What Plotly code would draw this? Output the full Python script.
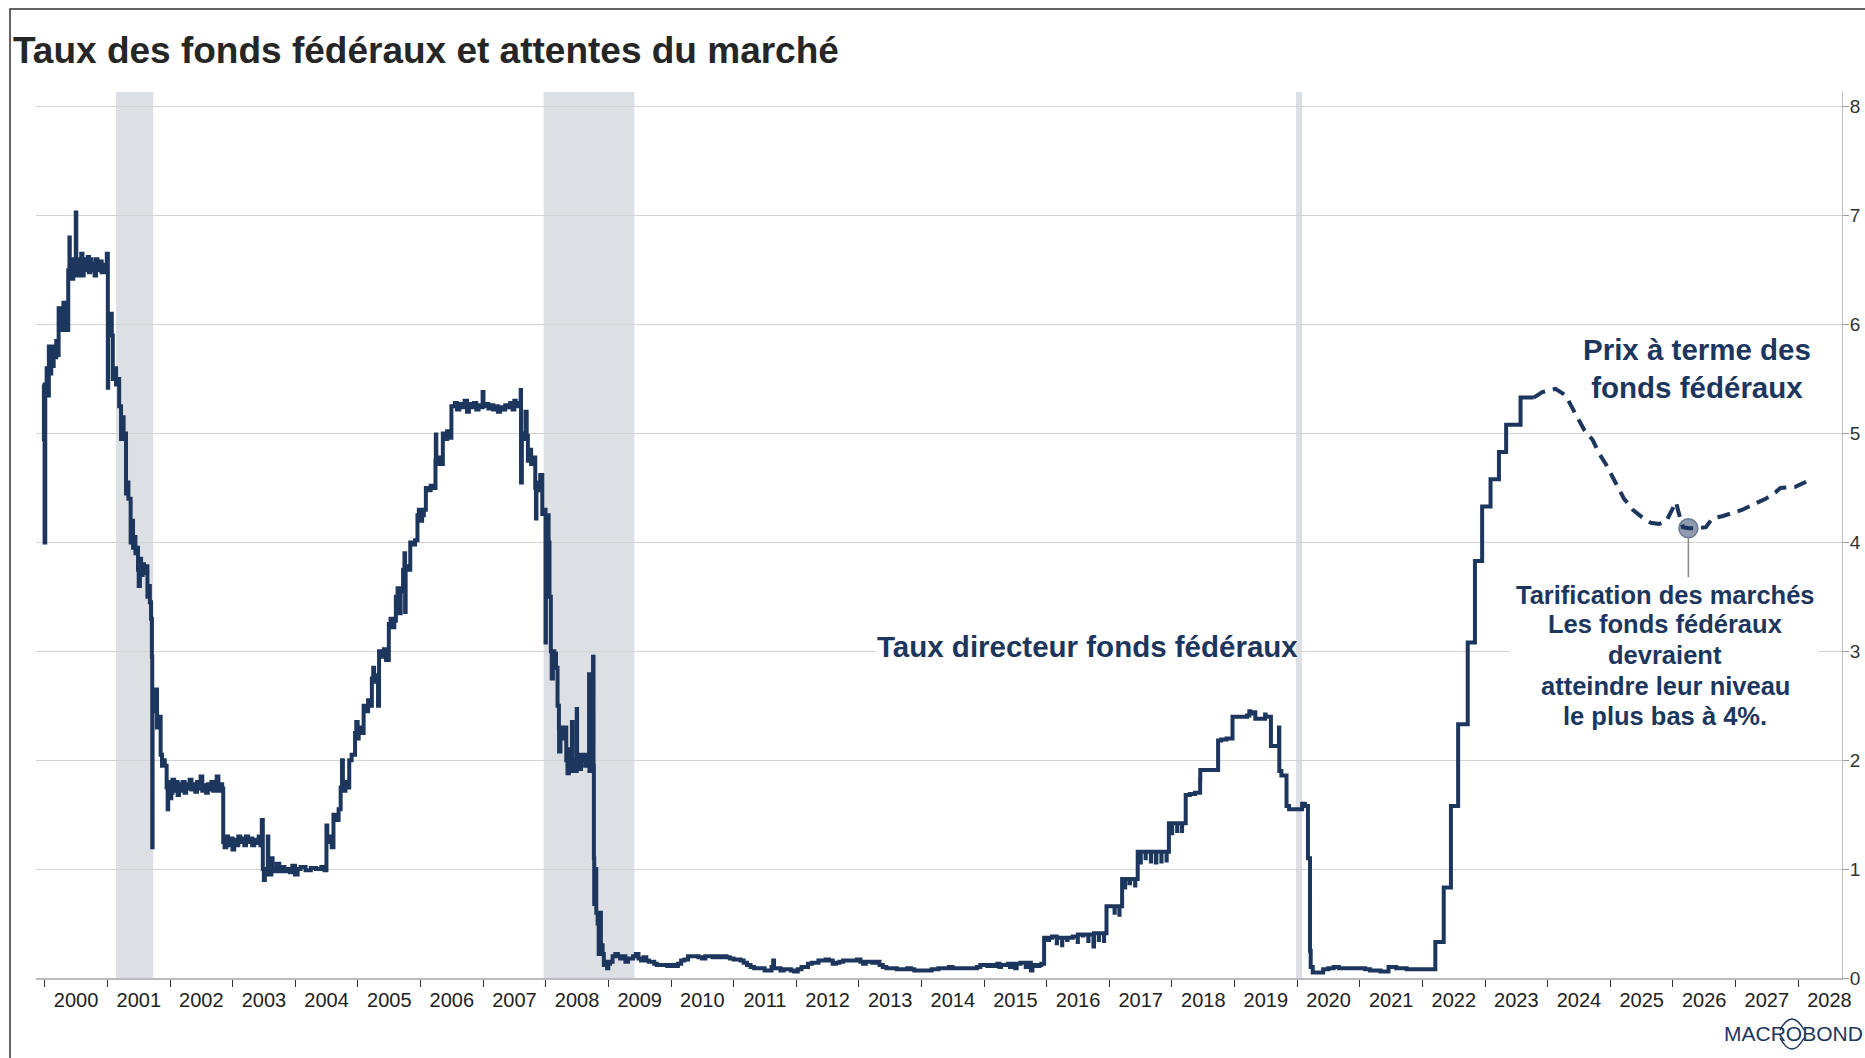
import plotly.graph_objects as go

# ---------------- data ----------------
effr_points = [
    ("1999-12-20", 5.45), ("1999-12-27", 4.95), ("1999-12-31", 4.00), ("2000-01-04", 5.45),
    ("2000-01-12", 5.60), ("2000-01-18", 5.35), ("2000-01-25", 5.80), ("2000-02-02", 5.55),
    ("2000-02-08", 5.75), ("2000-02-15", 5.62), ("2000-02-22", 5.80), ("2000-03-01", 5.70),
    ("2000-03-08", 5.85), ("2000-03-15", 5.72), ("2000-03-22", 6.15), ("2000-03-29", 5.95),
    ("2000-04-05", 6.15), ("2000-04-12", 5.95), ("2000-04-19", 6.20), ("2000-04-26", 6.00),
    ("2000-05-03", 6.05), ("2000-05-10", 5.95), ("2000-05-17", 6.50), ("2000-05-24", 6.80),
    ("2000-05-26", 6.45), ("2000-06-02", 6.60), ("2000-06-08", 6.42), ("2000-06-15", 6.55),
    ("2000-06-22", 6.45), ("2000-06-30", 7.03), ("2000-07-03", 6.50), ("2000-07-10", 6.60),
    ("2000-07-17", 6.45), ("2000-07-24", 6.55), ("2000-08-01", 6.65), ("2000-08-08", 6.45),
    ("2000-08-15", 6.60), ("2000-08-22", 6.50), ("2000-09-01", 6.55), ("2000-09-08", 6.62),
    ("2000-09-15", 6.48), ("2000-09-22", 6.60), ("2000-10-01", 6.50), ("2000-10-10", 6.56),
    ("2000-10-18", 6.45), ("2000-10-26", 6.60), ("2000-11-03", 6.50), ("2000-11-12", 6.55),
    ("2000-11-20", 6.58), ("2000-11-28", 6.48), ("2000-12-06", 6.55), ("2000-12-14", 6.48),
    ("2000-12-22", 6.52), ("2000-12-28", 6.65), ("2001-01-03", 5.42), ("2001-01-05", 6.05),
    ("2001-01-12", 5.95), ("2001-01-19", 6.10), ("2001-01-26", 5.90), ("2001-02-01", 5.50),
    ("2001-02-10", 5.60), ("2001-02-20", 5.45), ("2001-03-01", 5.50), ("2001-03-10", 5.25),
    ("2001-03-21", 4.95), ("2001-03-28", 5.15), ("2001-04-05", 4.95), ("2001-04-12", 5.00),
    ("2001-04-19", 4.45), ("2001-04-26", 4.55), ("2001-05-03", 4.40), ("2001-05-16", 4.00),
    ("2001-05-23", 4.20), ("2001-05-30", 3.95), ("2001-06-06", 4.05), ("2001-06-13", 3.90),
    ("2001-06-20", 3.95), ("2001-06-28", 3.75), ("2001-07-02", 3.60), ("2001-07-09", 3.85),
    ("2001-07-16", 3.70), ("2001-07-25", 3.80), ("2001-08-02", 3.72), ("2001-08-10", 3.78),
    ("2001-08-22", 3.50), ("2001-08-30", 3.60), ("2001-09-05", 3.45), ("2001-09-12", 3.30),
    ("2001-09-17", 2.95), ("2001-09-19", 1.20), ("2001-09-21", 2.50), ("2001-09-26", 2.65),
    ("2001-10-03", 2.45), ("2001-10-10", 2.65), ("2001-10-17", 2.30), ("2001-10-24", 2.40),
    ("2001-11-07", 2.05), ("2001-11-15", 1.95), ("2001-11-22", 2.00), ("2001-12-01", 1.95),
    ("2001-12-12", 1.75), ("2001-12-18", 1.55), ("2001-12-21", 1.80), ("2001-12-31", 1.65),
    ("2002-01-08", 1.70), ("2002-01-15", 1.82), ("2002-01-25", 1.72), ("2002-02-05", 1.80),
    ("2002-02-14", 1.68), ("2002-02-22", 1.78), ("2002-03-05", 1.72), ("2002-03-15", 1.80),
    ("2002-03-27", 1.70), ("2002-04-05", 1.78), ("2002-04-15", 1.74), ("2002-04-25", 1.82),
    ("2002-05-06", 1.73), ("2002-05-16", 1.78), ("2002-05-28", 1.71), ("2002-06-07", 1.80),
    ("2002-06-18", 1.74), ("2002-06-28", 1.85), ("2002-07-08", 1.72), ("2002-07-18", 1.77),
    ("2002-07-30", 1.70), ("2002-08-09", 1.78), ("2002-08-20", 1.73), ("2002-08-30", 1.80),
    ("2002-09-10", 1.72), ("2002-09-20", 1.76), ("2002-09-30", 1.85), ("2002-10-10", 1.72),
    ("2002-10-22", 1.78), ("2002-11-01", 1.74), ("2002-11-07", 1.25), ("2002-11-15", 1.20),
    ("2002-11-25", 1.30), ("2002-12-05", 1.22), ("2002-12-16", 1.28), ("2002-12-31", 1.18),
    ("2003-01-10", 1.27), ("2003-01-22", 1.22), ("2003-02-03", 1.30), ("2003-02-14", 1.25),
    ("2003-02-26", 1.28), ("2003-03-10", 1.22), ("2003-03-20", 1.30), ("2003-04-01", 1.25),
    ("2003-04-14", 1.28), ("2003-04-25", 1.22), ("2003-05-07", 1.27), ("2003-05-20", 1.24),
    ("2003-06-02", 1.30), ("2003-06-12", 1.22), ("2003-06-20", 1.45), ("2003-06-26", 1.00),
    ("2003-07-02", 0.90), ("2003-07-08", 1.00), ("2003-07-15", 0.95), ("2003-07-25", 1.30),
    ("2003-07-28", 1.00), ("2003-08-05", 0.95), ("2003-08-15", 1.10), ("2003-08-22", 1.00),
    ("2003-09-02", 0.98), ("2003-09-15", 1.05), ("2003-09-30", 0.98), ("2003-10-15", 1.02),
    ("2003-10-30", 0.98), ("2003-11-12", 1.00), ("2003-12-01", 0.97), ("2003-12-15", 1.03),
    ("2003-12-31", 0.95), ("2004-01-15", 1.00), ("2004-02-01", 1.02), ("2004-03-01", 0.99),
    ("2004-04-01", 1.01), ("2004-05-01", 1.00), ("2004-06-01", 1.02), ("2004-06-20", 0.99),
    ("2004-07-01", 1.40), ("2004-07-06", 1.25), ("2004-07-20", 1.30), ("2004-08-01", 1.20),
    ("2004-08-11", 1.50), ("2004-08-25", 1.45), ("2004-09-10", 1.55), ("2004-09-22", 1.75),
    ("2004-09-30", 2.00), ("2004-10-05", 1.72), ("2004-10-20", 1.80), ("2004-11-01", 1.75),
    ("2004-11-11", 2.00), ("2004-11-25", 2.05), ("2004-12-15", 2.25), ("2004-12-22", 2.35),
    ("2004-12-30", 2.20), ("2005-01-05", 2.30), ("2005-01-20", 2.25), ("2005-02-03", 2.50),
    ("2005-02-15", 2.45), ("2005-03-01", 2.55), ("2005-03-10", 2.50), ("2005-03-23", 2.75),
    ("2005-03-31", 2.85), ("2005-04-05", 2.72), ("2005-04-20", 2.78), ("2005-04-28", 2.50),
    ("2005-05-04", 3.00), ("2005-05-20", 2.95), ("2005-06-01", 3.02), ("2005-06-14", 2.92),
    ("2005-06-30", 3.25), ("2005-07-10", 3.30), ("2005-07-20", 3.22), ("2005-08-01", 3.28),
    ("2005-08-10", 3.50), ("2005-08-20", 3.58), ("2005-08-31", 3.35), ("2005-09-07", 3.55),
    ("2005-09-21", 3.75), ("2005-09-29", 3.90), ("2005-10-03", 3.36), ("2005-10-06", 3.78),
    ("2005-10-15", 3.75), ("2005-11-02", 4.00), ("2005-11-15", 3.98), ("2005-11-30", 4.02),
    ("2005-12-14", 4.25), ("2005-12-22", 4.30), ("2005-12-30", 4.20), ("2006-01-10", 4.25),
    ("2006-01-20", 4.30), ("2006-02-01", 4.50), ("2006-02-15", 4.48), ("2006-03-01", 4.52),
    ("2006-03-15", 4.50), ("2006-03-29", 4.75), ("2006-03-31", 4.99), ("2006-04-03", 4.72),
    ("2006-04-15", 4.78), ("2006-04-25", 4.72), ("2006-05-11", 5.00), ("2006-05-25", 4.95),
    ("2006-06-05", 5.02), ("2006-06-15", 4.96), ("2006-06-30", 5.25), ("2006-07-20", 5.28),
    ("2006-08-01", 5.22), ("2006-08-15", 5.27), ("2006-09-01", 5.24), ("2006-09-15", 5.30),
    ("2006-09-29", 5.20), ("2006-10-10", 5.27), ("2006-10-25", 5.24), ("2006-11-08", 5.28),
    ("2006-11-22", 5.22), ("2006-12-05", 5.26), ("2006-12-20", 5.24), ("2006-12-29", 5.38),
    ("2007-01-03", 5.25), ("2007-01-18", 5.27), ("2007-02-01", 5.23), ("2007-02-15", 5.26),
    ("2007-03-01", 5.22), ("2007-03-15", 5.25), ("2007-03-28", 5.20), ("2007-04-10", 5.24),
    ("2007-04-25", 5.22), ("2007-05-10", 5.26), ("2007-05-25", 5.24), ("2007-06-08", 5.28),
    ("2007-06-22", 5.22), ("2007-07-02", 5.30), ("2007-07-10", 5.25), ("2007-07-25", 5.28),
    ("2007-08-01", 5.26), ("2007-08-08", 5.40), ("2007-08-10", 4.55), ("2007-08-15", 5.00),
    ("2007-08-25", 4.95), ("2007-09-05", 5.20), ("2007-09-12", 4.98), ("2007-09-19", 4.75),
    ("2007-09-28", 4.85), ("2007-10-08", 4.72), ("2007-10-20", 4.78), ("2007-11-01", 4.50),
    ("2007-11-05", 4.22), ("2007-11-08", 4.55), ("2007-11-20", 4.48), ("2007-11-30", 4.62),
    ("2007-12-12", 4.26), ("2007-12-20", 4.30), ("2007-12-31", 3.08), ("2008-01-02", 4.00),
    ("2008-01-10", 4.25), ("2008-01-18", 4.00), ("2008-01-23", 3.50), ("2008-01-31", 3.00),
    ("2008-02-05", 2.75), ("2008-02-12", 3.00), ("2008-02-20", 2.98), ("2008-03-01", 2.85),
    ("2008-03-10", 2.50), ("2008-03-18", 2.30), ("2008-03-19", 2.08), ("2008-03-27", 2.30),
    ("2008-04-05", 2.20), ("2008-04-15", 2.30), ("2008-04-30", 2.00), ("2008-05-07", 1.88),
    ("2008-05-15", 2.10), ("2008-05-25", 1.90), ("2008-06-02", 2.35), ("2008-06-06", 2.00),
    ("2008-06-17", 1.90), ("2008-06-30", 2.47), ("2008-07-02", 2.05), ("2008-07-15", 1.92),
    ("2008-07-25", 2.05), ("2008-08-05", 2.00), ("2008-08-18", 1.95), ("2008-08-28", 2.05),
    ("2008-09-05", 2.00), ("2008-09-10", 2.79), ("2008-09-12", 1.90), ("2008-09-24", 2.00),
    ("2008-10-03", 2.95), ("2008-10-06", 1.95), ("2008-10-08", 1.10), ("2008-10-10", 0.68),
    ("2008-10-15", 1.00), ("2008-10-22", 0.60), ("2008-10-30", 0.50), ("2008-11-05", 0.22),
    ("2008-11-12", 0.60), ("2008-11-18", 0.30), ("2008-11-28", 0.22), ("2008-12-05", 0.12),
    ("2008-12-16", 0.15), ("2008-12-24", 0.09), ("2008-12-31", 0.13), ("2009-01-10", 0.15),
    ("2009-01-25", 0.20), ("2009-02-10", 0.22), ("2009-02-25", 0.20), ("2009-03-10", 0.18),
    ("2009-03-25", 0.20), ("2009-04-10", 0.15), ("2009-04-25", 0.18), ("2009-05-10", 0.18),
    ("2009-05-25", 0.20), ("2009-06-10", 0.22), ("2009-06-25", 0.18), ("2009-07-10", 0.16),
    ("2009-07-25", 0.19), ("2009-08-10", 0.16), ("2009-08-25", 0.15), ("2009-09-10", 0.15),
    ("2009-09-25", 0.13), ("2009-10-10", 0.12), ("2009-11-01", 0.12), ("2009-11-20", 0.12),
    ("2009-12-10", 0.11), ("2010-01-01", 0.12), ("2010-01-20", 0.11), ("2010-02-10", 0.13),
    ("2010-03-01", 0.16), ("2010-03-20", 0.17), ("2010-04-10", 0.20), ("2010-05-01", 0.20),
    ("2010-05-20", 0.20), ("2010-06-10", 0.19), ("2010-07-01", 0.18), ("2010-07-20", 0.20),
    ("2010-08-10", 0.20), ("2010-09-01", 0.19), ("2010-09-20", 0.20), ("2010-10-10", 0.19),
    ("2010-11-01", 0.20), ("2010-11-20", 0.19), ("2010-12-10", 0.18), ("2011-01-01", 0.17),
    ("2011-01-20", 0.17), ("2011-02-10", 0.16), ("2011-03-01", 0.14), ("2011-03-20", 0.12),
    ("2011-04-10", 0.10), ("2011-05-01", 0.09), ("2011-05-20", 0.09), ("2011-06-10", 0.09),
    ("2011-07-01", 0.07), ("2011-07-20", 0.07), ("2011-08-10", 0.10), ("2011-08-20", 0.16),
    ("2011-08-25", 0.09), ("2011-09-10", 0.09), ("2011-10-01", 0.07), ("2011-10-20", 0.08),
    ("2011-11-10", 0.08), ("2011-12-01", 0.07), ("2011-12-20", 0.06), ("2012-01-10", 0.08),
    ("2012-02-01", 0.10), ("2012-02-20", 0.10), ("2012-03-10", 0.13), ("2012-04-01", 0.14),
    ("2012-04-20", 0.14), ("2012-05-10", 0.16), ("2012-06-01", 0.16), ("2012-06-20", 0.17),
    ("2012-07-10", 0.16), ("2012-08-01", 0.13), ("2012-08-20", 0.14), ("2012-09-10", 0.15),
    ("2012-10-01", 0.16), ("2012-10-20", 0.16), ("2012-11-10", 0.16), ("2012-12-01", 0.16),
    ("2012-12-20", 0.17), ("2013-01-10", 0.15), ("2013-01-25", 0.13), ("2013-02-10", 0.15),
    ("2013-03-01", 0.15), ("2013-03-20", 0.14), ("2013-04-10", 0.15), ("2013-05-01", 0.12),
    ("2013-05-20", 0.10), ("2013-06-10", 0.09), ("2013-07-01", 0.09), ("2013-07-20", 0.09),
    ("2013-08-10", 0.08), ("2013-09-01", 0.08), ("2013-09-20", 0.08), ("2013-10-10", 0.09),
    ("2013-11-01", 0.08), ("2013-11-20", 0.07), ("2013-12-10", 0.07), ("2014-01-01", 0.07),
    ("2014-01-20", 0.07), ("2014-02-10", 0.07), ("2014-03-01", 0.08), ("2014-03-20", 0.08),
    ("2014-04-10", 0.09), ("2014-05-01", 0.09), ("2014-05-20", 0.09), ("2014-06-10", 0.10),
    ("2014-07-01", 0.09), ("2014-07-20", 0.09), ("2014-08-10", 0.09), ("2014-09-01", 0.09),
    ("2014-09-20", 0.09), ("2014-10-10", 0.09), ("2014-11-01", 0.09), ("2014-11-20", 0.10),
    ("2014-12-10", 0.12), ("2015-01-01", 0.12), ("2015-01-20", 0.11), ("2015-02-10", 0.12),
    ("2015-03-01", 0.11), ("2015-03-20", 0.13), ("2015-04-01", 0.10), ("2015-04-10", 0.12),
    ("2015-05-01", 0.12), ("2015-05-20", 0.13), ("2015-06-01", 0.10), ("2015-06-10", 0.13),
    ("2015-07-01", 0.09), ("2015-07-10", 0.13), ("2015-08-01", 0.14), ("2015-08-20", 0.14),
    ("2015-09-01", 0.10), ("2015-09-10", 0.14), ("2015-10-01", 0.07), ("2015-10-10", 0.12),
    ("2015-11-01", 0.11), ("2015-11-20", 0.12), ("2015-12-01", 0.13), ("2015-12-17", 0.37),
    ("2016-01-04", 0.35), ("2016-01-15", 0.37), ("2016-02-01", 0.38), ("2016-02-29", 0.32),
    ("2016-03-01", 0.37), ("2016-03-31", 0.30), ("2016-04-01", 0.37), ("2016-04-29", 0.35),
    ("2016-05-02", 0.37), ("2016-05-20", 0.37), ("2016-06-01", 0.38), ("2016-06-30", 0.33),
    ("2016-07-01", 0.40), ("2016-07-29", 0.39), ("2016-08-01", 0.40), ("2016-08-31", 0.34),
    ("2016-09-01", 0.40), ("2016-09-30", 0.29), ("2016-10-03", 0.41), ("2016-10-31", 0.35),
    ("2016-11-01", 0.41), ("2016-11-30", 0.34), ("2016-12-01", 0.41), ("2016-12-15", 0.66),
    ("2017-01-03", 0.66), ("2017-01-31", 0.60), ("2017-02-01", 0.66), ("2017-02-28", 0.58),
    ("2017-03-01", 0.66), ("2017-03-16", 0.91), ("2017-03-31", 0.83), ("2017-04-03", 0.91),
    ("2017-04-28", 0.87), ("2017-05-01", 0.91), ("2017-05-31", 0.85), ("2017-06-01", 0.91),
    ("2017-06-15", 1.16), ("2017-06-30", 1.06), ("2017-07-03", 1.16), ("2017-07-31", 1.10),
    ("2017-08-01", 1.16), ("2017-08-31", 1.07), ("2017-09-01", 1.16), ("2017-09-29", 1.06),
    ("2017-10-02", 1.16), ("2017-10-31", 1.07), ("2017-11-01", 1.16), ("2017-11-30", 1.08),
    ("2017-12-01", 1.16), ("2017-12-14", 1.42), ("2017-12-29", 1.33), ("2018-01-02", 1.42),
    ("2018-01-31", 1.35), ("2018-02-01", 1.42), ("2018-02-28", 1.35), ("2018-03-01", 1.42),
    ("2018-03-22", 1.68), ("2018-04-15", 1.69), ("2018-05-15", 1.70), ("2018-06-14", 1.82),
    ("2018-06-15", 1.91), ("2018-07-15", 1.91), ("2018-08-15", 1.91), ("2018-09-27", 2.18),
    ("2018-10-15", 2.19), ("2018-11-15", 2.20), ("2018-12-20", 2.40), ("2019-01-15", 2.40),
    ("2019-02-15", 2.40), ("2019-03-15", 2.41), ("2019-03-28", 2.45), ("2019-04-02", 2.43),
    ("2019-04-15", 2.44), ("2019-05-02", 2.38), ("2019-05-20", 2.38), ("2019-06-15", 2.38),
    ("2019-06-28", 2.42), ("2019-07-01", 2.40), ("2019-08-01", 2.13), ("2019-09-01", 2.13),
    ("2019-09-17", 2.30), ("2019-09-19", 1.90), ("2019-10-01", 1.86), ("2019-10-31", 1.58),
    ("2019-11-15", 1.55), ("2019-12-15", 1.55), ("2020-01-15", 1.55), ("2020-01-30", 1.60),
    ("2020-02-15", 1.58), ("2020-03-04", 1.10), ("2020-03-16", 0.25), ("2020-03-20", 0.10),
    ("2020-04-01", 0.05), ("2020-05-01", 0.05), ("2020-06-01", 0.08), ("2020-07-01", 0.09),
    ("2020-08-01", 0.10), ("2020-09-01", 0.09), ("2020-10-01", 0.09), ("2020-11-01", 0.09),
    ("2020-12-01", 0.09), ("2021-01-01", 0.09), ("2021-02-01", 0.08), ("2021-03-01", 0.07),
    ("2021-04-01", 0.07), ("2021-05-01", 0.06), ("2021-06-17", 0.10), ("2021-07-01", 0.10),
    ("2021-08-01", 0.09), ("2021-10-01", 0.08), ("2021-12-01", 0.08), ("2022-02-01", 0.08),
    ("2022-03-17", 0.33), ("2022-05-05", 0.83), ("2022-06-16", 1.58), ("2022-07-28", 2.33),
    ("2022-09-22", 3.08), ("2022-11-03", 3.83), ("2022-12-15", 4.33), ("2023-02-02", 4.58),
    ("2023-03-23", 4.83), ("2023-05-04", 5.08), ("2023-07-27", 5.33), ("2023-10-12", 5.33),
]

fwd_points = [
    ("2023-10-12", 5.33), ("2023-12-01", 5.38), ("2024-02-16", 5.41), ("2024-04-15", 5.35),
    ("2024-06-01", 5.21), ("2024-08-03", 5.03), ("2024-09-20", 4.94), ("2024-10-26", 4.82),
    ("2024-12-05", 4.72), ("2025-01-15", 4.60), ("2025-02-14", 4.51), ("2025-03-22", 4.40),
    ("2025-05-12", 4.30), ("2025-06-28", 4.24), ("2025-08-25", 4.18), ("2025-10-12", 4.17),
    ("2025-11-21", 4.19), ("2025-12-20", 4.27), ("2026-01-19", 4.37), ("2026-02-02", 4.28),
    ("2026-02-28", 4.14), ("2026-04-01", 4.13), ("2026-05-15", 4.13), ("2026-07-12", 4.14),
    ("2026-08-18", 4.22), ("2026-10-15", 4.24), ("2026-12-12", 4.27), ("2027-02-10", 4.30),
    ("2027-05-01", 4.36), ("2027-06-25", 4.40), ("2027-08-22", 4.46), ("2027-09-20", 4.50),
    ("2027-12-16", 4.51), ("2028-02-20", 4.56),
]

recessions = [("2001-02-20", "2001-09-25"), ("2007-12-20", "2009-06-01"), ("2019-12-25", "2020-01-30")]

low_point = ("2026-04-01", 4.13)

title_text = "Taux des fonds fédéraux et attentes du marché"
label_policy = "Taux directeur fonds fédéraux"
label_futures = "Prix à terme des<br>fonds fédéraux"
note_lines = ["Tarification des marchés", "Les fonds fédéraux", "devraient",
              "atteindre leur niveau", "le plus bas à 4%."]
note_line_y = [3.52, 3.25, 2.965, 2.68, 2.405]

# ---------------- styling ----------------
NAVY = "#1c365e"
FONT = "Liberation Sans, Arial, sans-serif"
W, H = 1865, 1058
ML, MR, MT, MB = 36, 23, 92, 80
PW, PH = W - ML - MR, H - MT - MB

def px_x(x):  # pixel -> paper
    return (x - ML) / PW

def px_y(y):
    return (H - MB - y) / PH

fig = go.Figure()

fig.add_trace(go.Scatter(
    x=[d for d, _ in effr_points], y=[v for _, v in effr_points],
    mode="lines", line=dict(color=NAVY, width=4, shape="hv"),
    hoverinfo="skip", showlegend=False))

fig.add_trace(go.Scatter(
    x=[low_point[0]], y=[low_point[1]], mode="markers",
    marker=dict(size=19, color="#8e9ab0", line=dict(color="#6d7a92", width=1.5)),
    hoverinfo="skip", showlegend=False))

fig.add_trace(go.Scatter(
    x=[d for d, _ in fwd_points], y=[v for _, v in fwd_points],
    mode="lines", line=dict(color=NAVY, width=4, dash="13px,8px"),
    hoverinfo="skip", showlegend=False))

shapes = []
for a, b in recessions:
    shapes.append(dict(type="rect", xref="x", yref="paper", x0=a, x1=b, y0=0, y1=1,
                       fillcolor="#dcdfe4", line=dict(width=0), layer="below"))
# white backing behind the labels (hides the gridline behind them)
shapes.append(dict(type="rect", xref="paper", yref="y", x0=px_x(1510), x1=px_x(1818),
                   y0=2.25, y1=3.68, fillcolor="white", line=dict(width=0), layer="above"))
shapes.append(dict(type="line", xref="paper", yref="y", x0=px_x(876), x1=px_x(1290),
                   y0=3, y1=3, line=dict(color="white", width=3), layer="above"))
# connector from the low-point marker to the note
shapes.append(dict(type="line", xref="x", yref="y", x0=low_point[0], x1=low_point[0],
                   y0=4.04, y1=3.68, line=dict(color="#8a8a8a", width=1.5)))
# logo arcs around the "O" of MACROBOND
cx, cy = 1792, 1034
def P(x, y):
    return f"{px_x(x):.5f},{px_y(y):.5f}"
arc_path = (f"M {P(cx - 12, cy - 4)} Q {P(cx, cy - 26)} {P(cx + 12, cy - 4)} "
            f"M {P(cx - 12, cy + 4)} Q {P(cx, cy + 26)} {P(cx + 12, cy + 4)}")
shapes.append(dict(type="path", xref="paper", yref="paper", path=arc_path,
                   line=dict(color="#1b365d", width=1.5)))
# outer frame
shapes.append(dict(type="rect", xref="paper", yref="paper",
                   x0=px_x(10), x1=px_x(W + 10), y0=px_y(H + 10), y1=px_y(9),
                   line=dict(color="#333333", width=1.5), fillcolor="rgba(0,0,0,0)", layer="above"))

annotations = [
    dict(x="2016-08-26", y=3.04, xref="x", yref="y", text=label_policy, showarrow=False,
         font=dict(family=FONT, size=29.5, color=NAVY, weight="bold"),
         xanchor="center", yanchor="middle"),
    dict(x="2026-05-24", y=5.60, xref="x", yref="y", text=label_futures, showarrow=False,
         font=dict(family=FONT, size=29.5, color=NAVY, weight="bold"),
         xanchor="center", yanchor="middle", align="center"),
    dict(x=px_x(1722), y=px_y(1033), xref="paper", yref="paper", text="MACROBOND",
         showarrow=False, font=dict(family=FONT, size=21, color="#1b365d"),
         xanchor="left", yanchor="middle"),
]
for line_text, yv in zip(note_lines, note_line_y):
    annotations.append(dict(x="2025-11-17", y=yv, xref="x", yref="y", text=line_text,
                            showarrow=False, xanchor="center", yanchor="middle",
                            font=dict(family=FONT, size=25.5, color=NAVY, weight="bold")))

fig.update_layout(
    width=W, height=H,
    margin=dict(l=ML, r=MR, t=MT, b=MB, autoexpand=False),
    paper_bgcolor="white", plot_bgcolor="white",
    title=dict(text=title_text, x=13 / W, xref="container", xanchor="left",
               y=1 - 50 / H, yref="container", yanchor="middle",
               font=dict(family=FONT, size=37, color="#262626", weight="bold")),
    shapes=shapes, annotations=annotations, showlegend=False,
    xaxis=dict(type="date", range=["1999-11-11", "2028-09-13"],
               tick0="2000-01-01", dtick="M12", tickformat="%Y", ticklabelmode="period",
               ticks="outside", ticklen=7, tickwidth=1.2, tickcolor="#333333",
               ticklabelstandoff=-4,
               showline=True, linecolor="#bbbbbb", linewidth=1.5, showgrid=False,
               zeroline=False, tickfont=dict(family=FONT, size=20, color="#222222")),
    yaxis=dict(range=[0, 8.136], side="right", dtick=1, tick0=0,
               showgrid=True, gridcolor="#d3d3d3", gridwidth=1,
               ticks="outside", ticklen=6, tickcolor="#999999",
               ticklabelstandoff=-3,
               showline=True, linecolor="#bbbbbb", linewidth=1, zeroline=False,
               tickfont=dict(family=FONT, size=19, color="#333333")),
)

fig.write_html("out.html", config={"displayModeBar": False},
               post_script="document.body.style.margin='0';")
